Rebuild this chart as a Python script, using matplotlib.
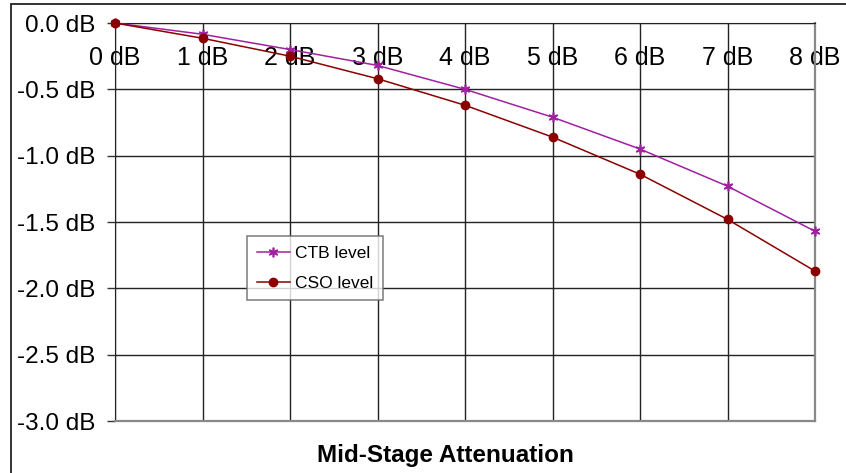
import matplotlib
matplotlib.use("Agg")
import matplotlib.pyplot as plt
from matplotlib.patches import Rectangle

plt.rcParams['font.family'] = ['Liberation Sans', 'DejaVu Sans']

# data
attenuation = [0, 1, 2, 3, 4, 5, 6, 7, 8]
ctb_level = [0.0, -0.085, -0.20, -0.32, -0.50, -0.71, -0.95, -1.23, -1.57]
cso_level = [0.0, -0.115, -0.25, -0.42, -0.62, -0.86, -1.14, -1.48, -1.87]
x_labels = ['0 dB', '1 dB', '2 dB', '3 dB', '4 dB', '5 dB', '6 dB', '7 dB', '8 dB']
y_ticks = [0.0, -0.5, -1.0, -1.5, -2.0, -2.5, -3.0]
y_labels = ['0.0 dB', '-0.5 dB', '-1.0 dB', '-1.5 dB', '-2.0 dB', '-2.5 dB', '-3.0 dB']

fig = plt.figure(figsize=(8.46, 4.73), dpi=100)
ax = fig.add_axes([115/846, 1 - 421/473, 700/846, 398/473])

ax.plot(attenuation, ctb_level, color='#A020A0', lw=1.1, marker=(6, 2, 0),
        ms=7, mew=1.2, label='CTB level', clip_on=False, zorder=3)
ax.plot(attenuation, cso_level, color='#8B0000', lw=1.1, marker='o',
        ms=6, label='CSO level', clip_on=False, zorder=3)

ax.set_xlim(0, 8)
ax.set_ylim(-3.0, 0.0)
ax.set_xticks(attenuation)
ax.set_xticklabels(x_labels)
ax.set_yticks(y_ticks)
ax.set_yticklabels(y_labels)
ax.tick_params(axis='x', top=False, bottom=False, labeltop=True, labelbottom=False,
               length=0, pad=-34, labelsize=18)
ax.tick_params(axis='y', length=6, width=1, color='#333333', pad=8, labelsize=17.5)
ax.grid(True, color='#222222', lw=1)
for side in ['top', 'left']:
    ax.spines[side].set_color('#222222')
for side in ['right', 'bottom']:
    ax.spines[side].set_color('#888888')
    ax.spines[side].set_linewidth(1.6)

leg = ax.legend(loc='upper left', bbox_to_anchor=((247 - 115)/700, (421 - 236)/398),
                fontsize=12.5, frameon=True, fancybox=False, edgecolor='#666666',
                handlelength=1.9, handletextpad=0.3, borderpad=0.55,
                labelspacing=0.85, borderaxespad=0)
leg.get_frame().set_linewidth(1.2)

fig.text(445/846, 1 - 455/473, 'Mid-Stage Attenuation', ha='center', va='center',
         fontsize=17.5, fontweight='bold')

fig.patches.append(Rectangle((11/846, -0.1), 1.2, 1.1 - 4.5/473,
                             transform=fig.transFigure, fill=False,
                             edgecolor='#222222', lw=1.3))

fig.savefig('out.png', dpi=100)
